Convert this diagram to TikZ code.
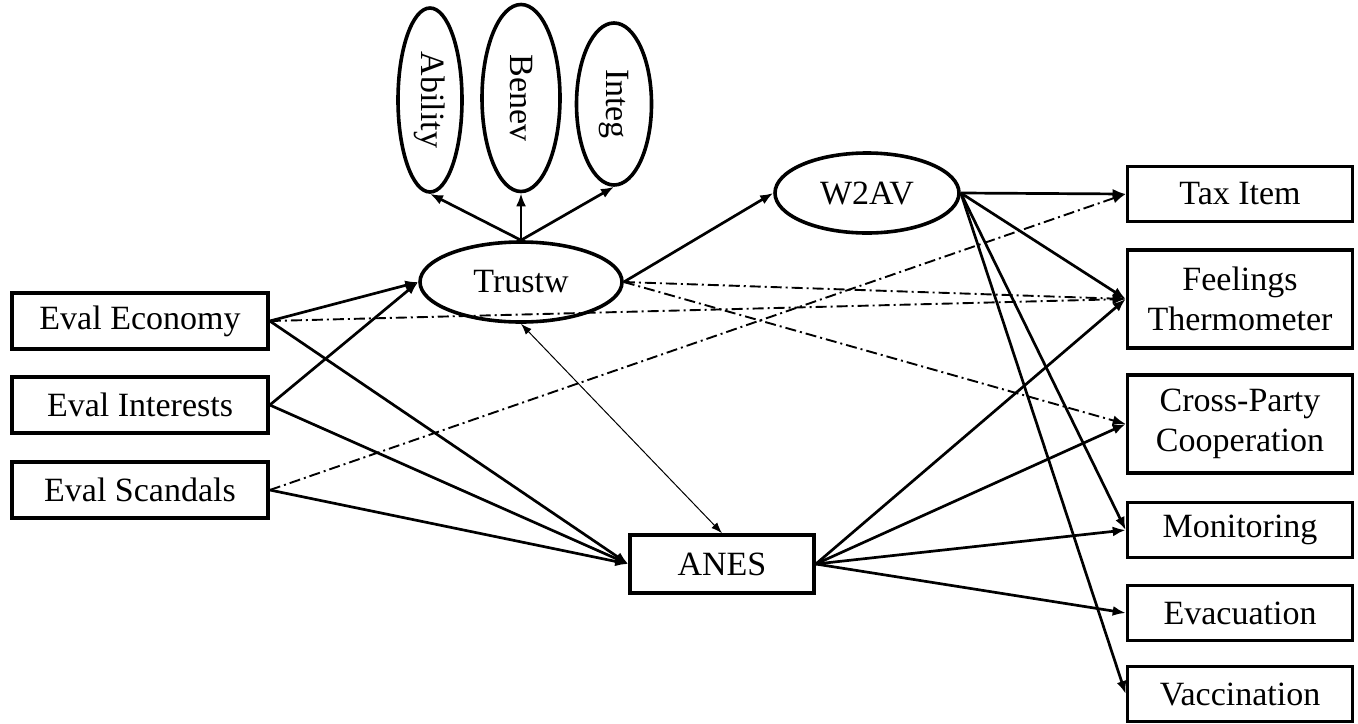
\documentclass[tikz,border=0pt]{standalone}
\usepackage{fontspec}
\setmainfont{Liberation Serif}
\usetikzlibrary{shapes.geometric,arrows.meta}
\begin{document}
\begin{tikzpicture}[x=0.5pt,y=-0.5pt,
        every node/.style={font=\fontsize{17}{20}\selectfont},
        obs/.style={draw,line width=1.8pt,inner sep=0pt,align=center},
        lbox/.style={obs,minimum width=128pt,minimum height=28pt},
        rbox/.style={obs,minimum width=112.5pt,minimum height=27.5pt},
        lat/.style={draw,ellipse,line width=1.8pt,inner sep=0pt},
        eff/.style={line width=1.35pt,-{Latex[length=6.5pt,width=5pt]}},
        nseff/.style={line width=0.95pt,dash pattern=on 5.5pt off 2pt on 1pt off 2pt,-{Latex[length=6.5pt,width=5pt]}},
        cov/.style={line width=0.5pt,{Latex[length=5.5pt,width=4pt]}-{Latex[length=5.5pt,width=4pt]}}]
        \useasboundingbox (0,0) rectangle (1358,723);
        \path (140,321) node[lbox] (econ) {Eval Economy};
        \path (140,405) node[lbox] (inter) {Eval Interests};
        \path (140,490) node[lbox] (scand) {Eval Scandals};
        \path (521,282) node[lat,minimum width=101pt,minimum height=40pt] (trust) {Trustw};
        \path (430,100) node[lat,minimum width=32pt,minimum height=92pt] (abil) {\rotatebox{-90}{Ability}};
        \path (521,98) node[lat,minimum width=39pt,minimum height=93.5pt] (benev) {\rotatebox{-90}{Benev}};
        \path (614,104) node[lat,minimum width=37.5pt,minimum height=81pt] (integ) {\rotatebox{-90}{Integ}};
        \path (867,193) node[lat,minimum width=92pt,minimum height=40pt] (w2av) {W2AV};
        \path (722,564) node[obs,minimum width=92pt,minimum height=29pt] (anes) {ANES};
        \path (1240,194) node[rbox] (tax) {Tax Item};
        \path (1240,299) node[rbox,minimum height=49pt] (feel) {Feelings\\Thermometer};
        \path (1240,424) node[rbox,minimum height=49pt] (cross) {Cross-Party\\Cooperation};
        \path (1240,530) node[rbox] (mon) {Monitoring};
        \path (1240,613) node[rbox] (evac) {Evacuation};
        \path (1240,694) node[rbox] (vacc) {Vaccination};
        \draw[eff] (trust.north) -- (abil.south);
        \draw[eff] (trust.north) -- (benev.south);
        \draw[eff] (trust.north) -- (integ.south);
        \draw[eff] (econ.east) -- (trust.west);
        \draw[eff] (inter.east) -- (trust.west);
        \draw[eff] (econ.east) -- (anes.west);
        \draw[eff] (inter.east) -- (anes.west);
        \draw[eff] (scand.east) -- (anes.west);
        \draw[nseff] (econ.east) -- (feel.west);
        \draw[nseff] (scand.east) -- (tax.west);
        \draw[eff] (trust.east) -- (w2av.west);
        \draw[nseff] (trust.east) -- (feel.west);
        \draw[nseff] (trust.east) -- (cross.west);
        \draw[cov] (trust.south) -- (anes.north);
        \draw[eff] (w2av.east) -- (tax.west);
        \draw[eff] (w2av.east) -- (feel.west);
        \draw[eff] (w2av.east) -- (mon.west);
        \draw[eff] (w2av.east) -- (vacc.west);
        \draw[eff] (anes.east) -- (feel.west);
        \draw[eff] (anes.east) -- (cross.west);
        \draw[eff] (anes.east) -- (mon.west);
        \draw[eff] (anes.east) -- (evac.west);
\end{tikzpicture}
\end{document}
